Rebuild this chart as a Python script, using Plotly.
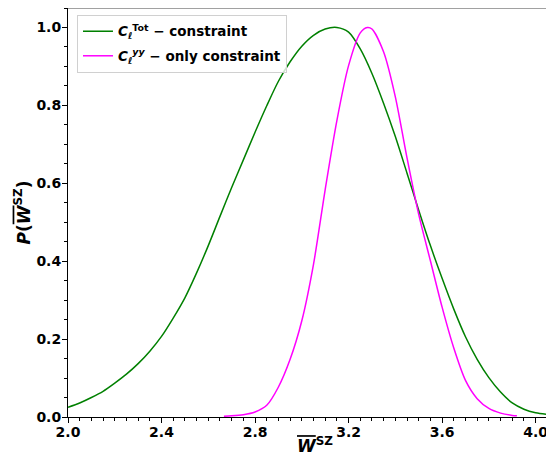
import plotly.graph_objects as go

# Green: C_l^Tot - constraint
x_tot = [2.0, 2.05, 2.1, 2.15, 2.2, 2.25, 2.3, 2.35, 2.4, 2.45, 2.5, 2.55, 2.6, 2.65, 2.7,
         2.75, 2.8, 2.85, 2.9, 2.95, 3.0, 3.05, 3.1, 3.15, 3.2, 3.25, 3.3, 3.35, 3.4, 3.45,
         3.5, 3.55, 3.6, 3.65, 3.7, 3.75, 3.8, 3.85, 3.9, 3.95, 4.0, 4.05, 4.1]
p_tot = [0.025, 0.036, 0.050, 0.066, 0.087, 0.110, 0.137, 0.169, 0.207, 0.254, 0.306, 0.370,
         0.440, 0.515, 0.589, 0.660, 0.731, 0.799, 0.862, 0.912, 0.952, 0.980, 0.996, 1.0,
         0.988, 0.945, 0.882, 0.805, 0.720, 0.626, 0.531, 0.440, 0.356, 0.277, 0.206, 0.148,
         0.101, 0.064, 0.036, 0.020, 0.011, 0.007, 0.005]

# Magenta: C_l^yy - only constraint
x_yy = [2.667, 2.70, 2.75, 2.80, 2.85, 2.90, 2.95, 3.0, 3.05, 3.1, 3.15, 3.2, 3.25, 3.28,
        3.3, 3.35, 3.4, 3.45, 3.5, 3.55, 3.6, 3.65, 3.7, 3.75, 3.8, 3.85, 3.9, 3.92]
p_yy = [0.002, 0.003, 0.006, 0.013, 0.030, 0.077, 0.148, 0.247, 0.392, 0.584, 0.761, 0.902,
        0.986, 1.0, 0.996, 0.937, 0.822, 0.665, 0.520, 0.401, 0.282, 0.177, 0.094, 0.047,
        0.022, 0.010, 0.004, 0.003]

x_ticks = [2.0, 2.4, 2.8, 3.2, 3.6, 4.0]
y_ticks = [0.0, 0.2, 0.4, 0.6, 0.8, 1.0]

FONT = "DejaVu Sans"

fig = go.Figure()
fig.add_trace(go.Scatter(
    x=x_tot, y=p_tot, mode="lines", legendgroup="a",
    line=dict(color="#008000", width=1.5, shape="spline", smoothing=0.8),
    name="<b><i>C</i><sub><i>ℓ</i></sub><sup>Tot</sup> − constraint</b>"))
fig.add_trace(go.Scatter(
    x=x_yy, y=p_yy, mode="lines", legendgroup="b",
    line=dict(color="#ff00ff", width=1.5, shape="spline", smoothing=0.8),
    name="<b><i>C</i><sub><i>ℓ</i></sub><sup><i>yy</i></sup> − only constraint</b>"))

axis_common = dict(
    showgrid=False, zeroline=False, showline=True, linecolor="black", linewidth=1,
    ticks="outside", ticklen=5, tickwidth=1, tickcolor="black",
    tickfont=dict(family=FONT, size=14, color="black", weight="bold"),
)

fig.update_xaxes(range=[2.0, 4.1], tickvals=x_ticks, tickformat=".1f", ticklabelstandoff=-3,
                 minor=dict(dtick=0.05, tick0=2.0, ticks="outside", ticklen=3, tickcolor="black"),
                 **axis_common)
fig.update_yaxes(range=[0, 1.05], tickvals=y_ticks, tickformat=".1f", ticklabelstandoff=-2,
                 minor=dict(dtick=0.05, tick0=0, ticks="outside", ticklen=3, tickcolor="black"),
                 **axis_common)

# top spine
fig.add_shape(type="line", xref="paper", yref="paper", x0=0, x1=1, y0=1, y1=1,
              line=dict(color="#444", width=1))

fig.add_annotation(xref="paper", yref="paper", x=0.503, y=0, yshift=-28,
                   xanchor="center", yanchor="middle", showarrow=False,
                   text="<b><i><span style='text-decoration:overline'>W</span></i><sup>SZ</sup></b>",
                   font=dict(family=FONT, size=17, color="black"))
fig.add_annotation(xref="paper", yref="paper", x=0, xshift=-46, y=0.5,
                   xanchor="center", yanchor="middle", showarrow=False, textangle=-90,
                   text="<b><i>P</i>(<i><span style='text-decoration:overline'>W</span></i><sup>SZ</sup>)</b>",
                   font=dict(family=FONT, size=17, color="black"))

fig.update_layout(
    width=560, height=455,
    margin=dict(l=60, r=9, t=0, b=46),
    plot_bgcolor="white", paper_bgcolor="white",
    font=dict(family=FONT, size=14, color="black"),
    legend=dict(x=0.0183, y=0.983, xanchor="left", yanchor="top",
                bgcolor="rgba(255,255,255,0.8)", bordercolor="#d0d0d0", borderwidth=1,
                font=dict(family=FONT, size=13.5, color="black"), tracegroupgap=4),
    showlegend=True,
)

fig.write_html("out.html")
